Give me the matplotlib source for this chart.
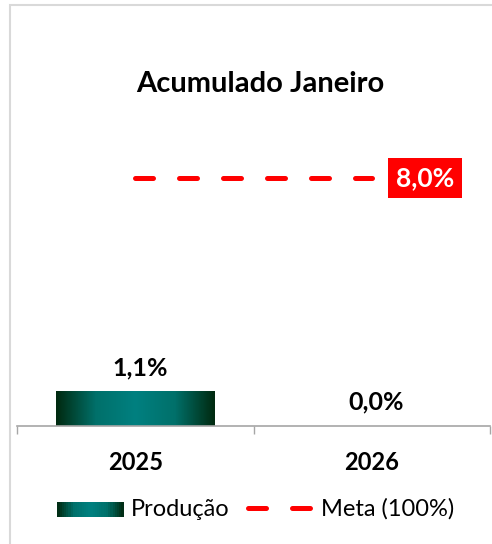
import numpy as np
import matplotlib.pyplot as plt
from matplotlib.patches import Rectangle
from matplotlib.lines import Line2D
from matplotlib.legend_handler import HandlerBase
from matplotlib.colors import LinearSegmentedColormap

plt.rcParams['font.family'] = ['Lato', 'DejaVu Sans']

categories = ['2025', '2026']
producao = [1.1, 0.0]
meta = [8.0, 8.0]
title = 'Acumulado Janeiro'

grad = LinearSegmentedColormap.from_list('g', ['#002a10', '#00706a', '#008080', '#00706a', '#002a10'])


class GradientHandler(HandlerBase):
    def create_artists(self, legend, orig, xd, yd, w, h, fontsize, trans):
        n = 30
        arts = []
        for i in range(n):
            r = Rectangle((xd + w * i / n, yd), w / n + 0.3, h,
                          facecolor=grad((i + 0.5) / n), edgecolor='none', transform=trans)
            arts.append(r)
        return arts


fig = plt.figure(figsize=(4.92, 5.44), dpi=100)
fig.patches.append(Rectangle((10 / 492, -0.01), 1.0, 1 - 5 / 544 + 0.01, transform=fig.transFigure,
                             fill=False, edgecolor='#d9d9d9', linewidth=1.5))
ax = fig.add_axes([17 / 492, 118 / 544, 473 / 492, 310 / 544])
x = np.arange(len(categories))
width = 0.67

bars = ax.bar(x, producao, width=width, color='none', edgecolor='none')
for b in bars:
    if b.get_height() > 0:
        x0, y0 = b.get_x(), b.get_y()
        ax.imshow(np.linspace(0, 1, 200).reshape(1, -1), cmap=grad, aspect='auto',
                  extent=[x0, x0 + b.get_width(), y0, y0 + b.get_height()], zorder=2)

ax.plot(x, meta, color='#ff0000', linewidth=3.6, dashes=(3.6, 5.2), dash_capstyle='round', zorder=3)
ax.text(x[-1] + 0.226, meta[-1], f'{meta[-1]:.1f}%'.replace('.', ','),
        color='white', fontsize=19, fontweight='bold', ha='center', va='center',
        bbox=dict(boxstyle='square,pad=0.3', facecolor='#ff0000', edgecolor='none'), zorder=4)

for xi, v in zip(x, producao):
    ax.text(xi + 0.02, v + 0.4, f'{v:.1f}%'.replace('.', ','), ha='center', va='bottom',
            fontsize=18, fontweight='bold')

ax.set_xlim(-0.5, 1.5)
ax.set_ylim(0, 10)
ax.set_yticks([])
ax.set_xticks([-0.5, 0.5, 1.5], minor=False)
ax.set_xticklabels([])
ax.set_xticks(x, minor=True)
ax.set_xticklabels(categories, minor=True, fontsize=17, fontweight='bold')
ax.tick_params(axis='x', which='major', length=6, color='#a6a6a6', width=1)
ax.tick_params(axis='x', which='minor', length=0, pad=18)
for s in ['top', 'right', 'left']:
    ax.spines[s].set_visible(False)
ax.spines['bottom'].set_color('#a6a6a6')
ax.spines['bottom'].set_linewidth(1.2)

ax.set_title(title, fontsize=21, fontweight='bold', pad=0, x=0.515, y=1.0 + 24 / 310)

handles = [Rectangle((0, 0), 1, 1), Line2D([], [], color='#ff0000', linewidth=3.6,
                                           dashes=(3.6, 5.2), dash_capstyle='round')]
fig.legend(handles, ['Produção', 'Meta (100%)'], loc='center', bbox_to_anchor=(256 / 492, 1 - 509 / 544),
           ncol=2, frameon=False, fontsize=17, handlelength=2.8, handleheight=0.6,
           handletextpad=0.3, columnspacing=0.8,
           handler_map={handles[0]: GradientHandler()})

fig.savefig('out.png', dpi=100)
